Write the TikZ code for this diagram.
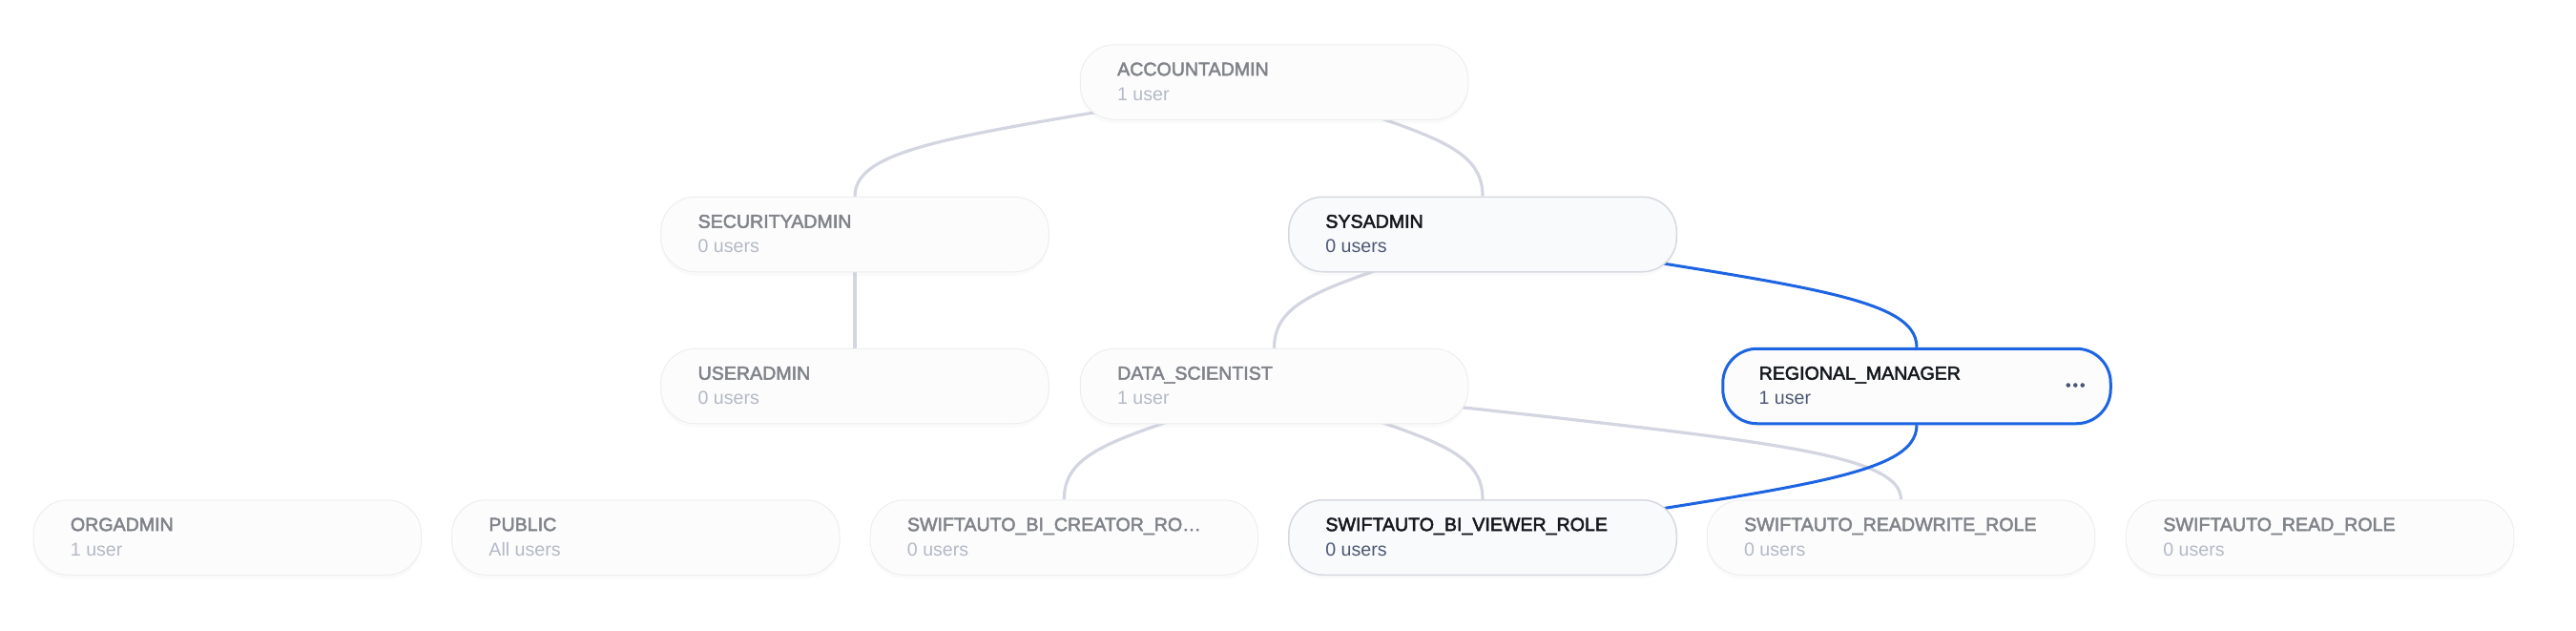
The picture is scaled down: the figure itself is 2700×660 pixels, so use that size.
\documentclass[tikz,border=0pt]{standalone}
\usepackage{fontspec}
\setmainfont{Liberation Sans}
\newcommand\semibold[1]{\special{pdf:literal direct q 2 Tr 0.25 w}#1\special{pdf:literal direct Q}}
\usetikzlibrary{calc,backgrounds,shadows}
\definecolor{fadetitle}{HTML}{808389}
\definecolor{fadesub}{HTML}{B4B9C6}
\definecolor{acttitle}{HTML}{15181E}
\definecolor{actsub}{HTML}{4C5873}
\definecolor{fadeborder}{HTML}{EDEEF1}
\definecolor{fadefill}{HTML}{FCFCFC}
\definecolor{actborder}{HTML}{D6D9E0}
\definecolor{actfill}{HTML}{F9FAFB}
\definecolor{selblue}{HTML}{1D64E3}
\definecolor{edgegrey}{HTML}{D3D6E0}
\tikzset{
  rolebase/.style={rectangle, rounded corners=18pt, minimum width=203.25pt,
    minimum height=39.25pt, inner sep=0pt,
    drop shadow={opacity=0.035, shadow xshift=0pt, shadow yshift=-2pt}},
  faded/.style={rolebase, draw=fadeborder, line width=0.5pt, fill=fadefill},
  active/.style={rolebase, draw=actborder, line width=0.75pt, fill=actfill},
  sel/.style={rolebase, draw=selblue, line width=1.5pt, fill=fadefill},
  txt/.style={inner sep=0pt, anchor=base west, font=\fontsize{9.8}{12}\selectfont},
  fadedtitle/.style={txt, text=fadetitle},
  fadedsub/.style={txt, text=fadesub},
  activetitle/.style={txt, text=acttitle},
  activesub/.style={txt, text=actsub},
  seltitle/.style={activetitle},
  selsub/.style={activesub},
  edge/.style={draw=edgegrey, line width=1.6pt},
  bluedge/.style={draw=selblue, line width=1.5pt},
}
\newcommand\rolebox[6]{%
  \node[#6] (#1) at (#2,#3) {};
  \node[#6title] (#1-t) at ($(#1.west)+(39,-6.8)$) {\semibold{#4}};
  \node[#6sub] (#1-s) at ($(#1.west)+(39,19.3)$) {#5};
}
\newcommand\roleedge[3]{%
  \draw[#1] let \p1=(#2), \p2=(#3) in
    (\p1) .. controls ({\x1+0.7*(\x2-\x1)},{\y1+0.45*(\y2-\y1)})
          and ({\x2},{\y2-0.47*(\y2-\y1)}) .. (\p2);
}
\begin{document}
\begin{tikzpicture}[x=0.5pt,y=-0.5pt]
\useasboundingbox (0,0) rectangle (2700,660);

\rolebox{acc}{1335.5}{86}{ACCOUNTADMIN}{1 user}{faded}
\rolebox{sec}{896}{245.5}{SECURITYADMIN}{0 users}{faded}
\rolebox{sys}{1554}{245.5}{SYSADMIN}{0 users}{active}
\rolebox{usr}{896}{404.5}{USERADMIN}{0 users}{faded}
\rolebox{ds}{1335.5}{404.5}{DATA\_SCIENTIST}{1 user}{faded}
\rolebox{rm}{2009}{404.5}{REGIONAL\_MANAGER}{1 user}{sel}
\rolebox{org}{238.3}{563}{ORGADMIN}{1 user}{faded}
\rolebox{pub}{676.8}{563}{PUBLIC}{All users}{faded}
\rolebox{cre}{1115.3}{563}{SWIFTAUTO\_BI\_CREATOR\_RO…}{0 users}{faded}
\rolebox{vw}{1554}{563}{SWIFTAUTO\_BI\_VIEWER\_ROLE}{0 users}{active}
\rolebox{rw}{1992.5}{563}{SWIFTAUTO\_READWRITE\_ROLE}{0 users}{faded}
\rolebox{rd}{2431.7}{563}{SWIFTAUTO\_READ\_ROLE}{0 users}{faded}

\foreach \k in {-46,-38.5,-31}
  \fill[actsub] ($(rm.east)+(\k,-1)$) circle (2.3);

\begin{pgfonlayer}{background}
  \fill[white] (0,0) rectangle (2700,660);
  \roleedge{edge}{acc.center}{sec.north}
  \roleedge{edge}{acc.center}{sys.north}
  \roleedge{edge}{sec.center}{usr.north}
  \roleedge{edge}{sys.center}{ds.north}
  \roleedge{edge}{ds.center}{cre.north}
  \roleedge{edge}{ds.center}{vw.north}
  \roleedge{edge}{ds.center}{rw.north}
  \roleedge{bluedge}{sys.center}{rm.north}
  \roleedge{bluedge}{vw.center}{rm.south}
\end{pgfonlayer}
\end{tikzpicture}
\end{document}
